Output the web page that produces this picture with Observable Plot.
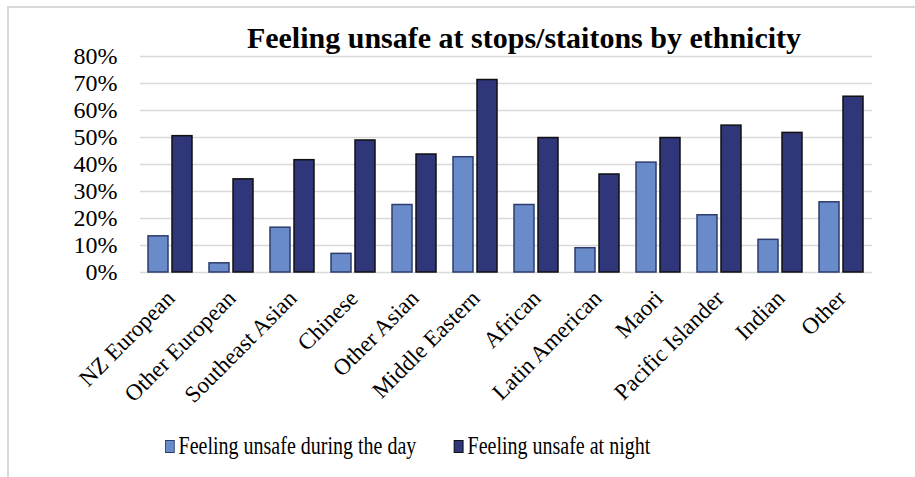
<!DOCTYPE html>
<html><head><meta charset="utf-8">
<script src="https://cdn.jsdelivr.net/npm/d3@7"></script>
<script src="https://cdn.jsdelivr.net/npm/@observablehq/plot@0.6"></script>
<style>
body{margin:0;background:#fff;}
#wrap{position:relative;width:915px;height:477px;overflow:hidden;font-family:"Liberation Serif","Times New Roman",serif;color:#000;}
#frame{position:absolute;left:7px;top:6px;right:-5px;bottom:-5px;border-top:2px solid #d9d9d9;border-left:2px solid #d9d9d9;}
#title{position:absolute;top:20px;left:524px;transform:translateX(-50%);white-space:nowrap;font-weight:bold;font-size:30px;line-height:36px;}
#chart{position:absolute;left:0;top:0;}
#legend{position:absolute;top:431px;left:165px;display:flex;align-items:center;font-size:25px;line-height:30px;white-space:nowrap;transform:scaleX(0.8);transform-origin:0 50%;}
.sw{display:inline-block;width:10px;height:11px;margin-right:5px;}
.item{display:flex;align-items:center;}
</style>
</head><body>
<div id="wrap">
  <div id="frame"></div>
  <div id="chart"></div>
  <div id="title"></div>
  <div id="legend"></div>
</div>
<script>
const titleText = "Feeling unsafe at stops/staitons by ethnicity";
const categories = ["NZ European","Other European","Southeast Asian","Chinese","Other Asian","Middle Eastern","African","Latin American","Maori","Pacific Islander","Indian","Other"];
const series = ["Feeling unsafe during the day","Feeling unsafe at night"];
const dayValues = [0.134,0.034,0.166,0.069,0.250,0.427,0.250,0.090,0.407,0.212,0.121,0.260];
const nightValues = [0.505,0.345,0.416,0.489,0.437,0.713,0.498,0.363,0.498,0.544,0.517,0.651];
const yTicks = [0,0.1,0.2,0.3,0.4,0.5,0.6,0.7,0.8];

const dayFill = "#6a8bca", dayStroke = "#2d3c6c";
const nightFill = "#2f367a", nightStroke = "#111111";

const rows = [];
categories.forEach((c,i)=>{
  rows.push({category:c, series:series[0], value:dayValues[i]});
  rows.push({category:c, series:series[1], value:nightValues[i]});
});
const pct = d => Math.round(d*100) + "%";

const chart = Plot.plot({
  width:915, height:400,
  marginTop:56, marginBottom:128, marginLeft:138, marginRight:41,
  style:{fontFamily:"'Liberation Serif','Times New Roman',serif", color:"#000", background:"transparent", overflow:"visible"},
  fx:{domain:categories, padding:0, label:null, axis:null},
  x:{domain:series, paddingInner:0.16, paddingOuter:0.306, axis:null},
  y:{domain:[0,0.8], label:null, axis:null},
  marks:[
    Plot.ruleY(yTicks, {stroke:"#d9d9d9", strokeWidth:1.5}),
    Plot.barY(rows.filter(d=>d.series===series[0]), {fx:"category", x:"series", y:"value", fill:dayFill, stroke:dayStroke, strokeWidth:1.5}),
    Plot.barY(rows.filter(d=>d.series===series[1]), {fx:"category", x:"series", y:"value", fill:nightFill, stroke:nightStroke, strokeWidth:1.5}),
    Plot.axisY({ticks:yTicks, tickFormat:pct, tickSize:0, tickPadding:23, label:null, fontSize:24}),
    Plot.axisFx({anchor:"bottom", tickRotate:-45, tickSize:0, tickPadding:22, label:null, fontSize:23})
  ]
});
document.getElementById("chart").appendChild(chart);
document.getElementById("title").textContent = titleText;

const legend = document.getElementById("legend");
[[series[0], dayFill, dayStroke, 0],[series[1], nightFill, nightStroke, 47]].forEach(([name, f, s, gap])=>{
  const it = document.createElement("div");
  it.className = "item";
  it.style.marginLeft = gap + "px";
  const sw = document.createElement("span");
  sw.className = "sw";
  sw.style.background = f;
  sw.style.border = "1.5px solid " + s;
  const t = document.createElement("span");
  t.textContent = name;
  it.appendChild(sw); it.appendChild(t);
  legend.appendChild(it);
});
</script>
</body></html>
